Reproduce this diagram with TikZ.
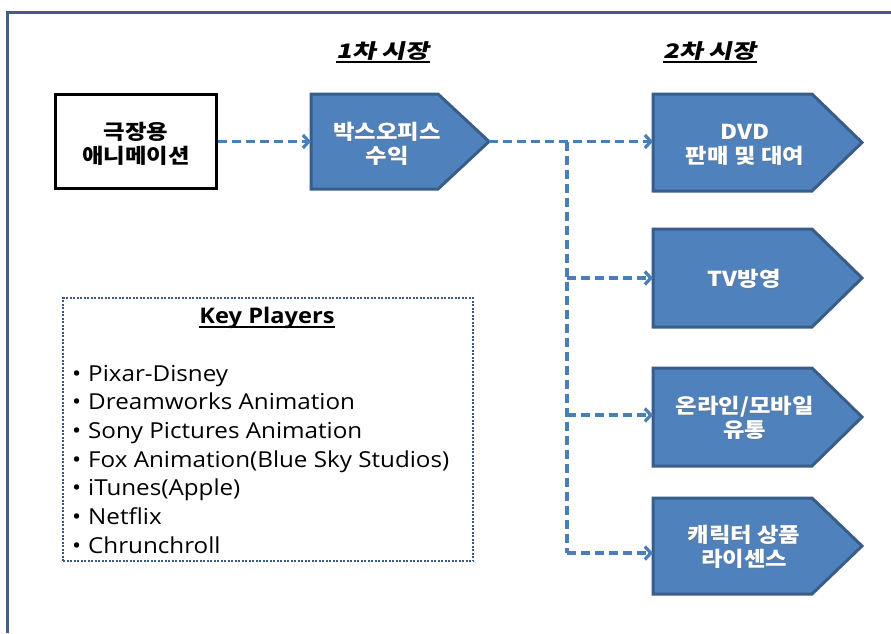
\documentclass[tikz,border=0pt]{standalone}
\usepackage{fontspec}
\setmainfont{Open Sans}[FakeStretch=1.1]
\newfontfamily\kr{Noto Sans CJK KR}[FakeStretch=1.14]
\newfontfamily\krsl{Noto Sans CJK KR}[FakeSlant=0.2,FakeStretch=1.3]
\usetikzlibrary{arrows.meta,calc}
\definecolor{fillblue}{HTML}{4F81BD}
\definecolor{edgeblue}{HTML}{385D8A}
\definecolor{lineblue}{HTML}{4A7EBB}
\definecolor{framec}{HTML}{3F5F8A}
\definecolor{dotc}{HTML}{3B5A84}
\newcommand{\wlabel}[3]{%
  \node[wtext,text=black!55,opacity=0.6] (#1s) at ([xshift=1pt,yshift=-1pt]#2) {#3};
  \node[wtext] (#1) at (#2) {#3};}
\begin{document}
\begin{tikzpicture}[x=1pt,y=-1pt,
  shapebox/.style={inner sep=0pt,outer sep=0pt,minimum height=#1},
  pentline/.style={draw=edgeblue,fill=fillblue,line width=3pt,line join=miter},
  wtext/.style={text=white,font=\kr\bfseries\fontsize{20.5}{24}\selectfont,align=center,inner sep=0pt},
  btext/.style={text=black,font=\kr\bfseries\fontsize{20.5}{24}\selectfont,align=center,inner sep=0pt},
  conn/.style={draw=lineblue,line width=3.2pt,dash pattern=on 9pt off 5pt},
  tip/.style={-{Straight Barb[length=6pt,width=13pt]}},
  title/.style={font=\krsl\bfseries\fontsize{20}{24}\selectfont,inner sep=0pt,anchor=base},
  listitem/.style={font=\fontsize{22}{24}\selectfont,inner sep=0pt,anchor=base west},
  uline/.style={line width=1.5pt}
]
\useasboundingbox (0,0) rectangle (891,633);
% frame
\draw[framec,line width=3pt] (7,633) -- (7,12) -- (891,12);

% titles
\node[title] (t1) at (383,58) {1차 시장};
\draw[uline] ([yshift=-4pt]t1.base west) -- ([yshift=-4pt]t1.base east);
\node[title] (t2) at (710,58) {2차 시장};
\draw[uline] ([yshift=-4pt]t2.base west) -- ([yshift=-4pt]t2.base east);

% source box
\node[draw=black,line width=3pt,minimum width=161pt,minimum height=94pt,inner sep=0pt] (src) at (136,141.5) {};
\node[btext] (srct) at (136,144) {극장용\\애니메이션};

% box office
\node[shapebox=95pt,minimum width=178pt] (bo) at (400,141.5) {};
\draw[pentline] (bo.north west) -- ([xshift=-51pt]bo.north east) -- (bo.east) -- ([xshift=-51pt]bo.south east) -- (bo.south west) -- cycle;
\wlabel{bot}{387,144}{박스오피스\\수익}

% second market shapes
\node[shapebox=97pt,minimum width=209pt] (dvd) at (757.5,142.5) {};
\node[shapebox=98pt,minimum width=209pt] (tv) at (757.5,278) {};
\node[shapebox=98pt,minimum width=209pt] (onl) at (757.5,417) {};
\node[shapebox=96pt,minimum width=209pt] (chr) at (757.5,546) {};
\foreach \n in {dvd,tv,onl,chr}{
  \draw[pentline] (\n.north west) -- ([xshift=-50pt]\n.north east) -- (\n.east) -- ([xshift=-50pt]\n.south east) -- (\n.south west) -- cycle;
}
\wlabel{dvdt}{745,145}{DVD\\판매 및 대여}
\wlabel{tvt}{744,279}{TV방영}
\wlabel{onlt}{744.5,417.5}{온라인/모바일\\유통}
\wlabel{chrt}{744,547}{캐릭터 상품\\라이센스}

% connectors
\draw[conn,tip] (src.east) -- (bo.west);
\draw[conn,tip] (bo.east) -- (bo.east -| dvd.west);
\coordinate (split) at (567,141.5);
\coordinate (chrin) at ([yshift=-7pt]chr.west);
\coordinate (onlin) at ([yshift=2pt]onl.west);
\draw[conn] (split) -- (split |- chrin);
\draw[conn,tip] (split |- tv.west) -- (tv.west);
\draw[conn,tip] (split |- onlin) -- (onlin);
\draw[conn,tip] (split |- chrin) -- (chrin);

% key players box
\node[draw=dotc,line width=2.5pt,dash pattern=on 2pt off 1.5pt,minimum width=410pt,minimum height=263pt,inner sep=0pt] (kpbox) at (268,429.5) {};
\node[font=\bfseries\fontsize{21.5}{24}\selectfont,inner sep=0pt,anchor=base] (kpt) at (267,323) {Key Players};
\draw[uline] ([yshift=-4pt]kpt.base west) -- ([yshift=-4pt]kpt.base east);
\node[listitem] (k1) at (72,381) {\makebox[16pt][l]{•}Pixar-Disney};
\node[listitem] (k2) at (72,409.7) {\makebox[16pt][l]{•}Dreamworks Animation};
\node[listitem] (k3) at (72,438.3) {\makebox[16pt][l]{•}Sony Pictures Animation};
\node[listitem] (k4) at (72,467) {\makebox[16pt][l]{•}Fox Animation(Blue Sky Studios)};
\node[listitem] (k5) at (72,495.7) {\makebox[16pt][l]{•}iTunes(Apple)};
\node[listitem] (k6) at (72,524.3) {\makebox[16pt][l]{•}Netflix};
\node[listitem] (k7) at (72,553) {\makebox[16pt][l]{•}Chrunchroll};
\end{tikzpicture}
\end{document}
